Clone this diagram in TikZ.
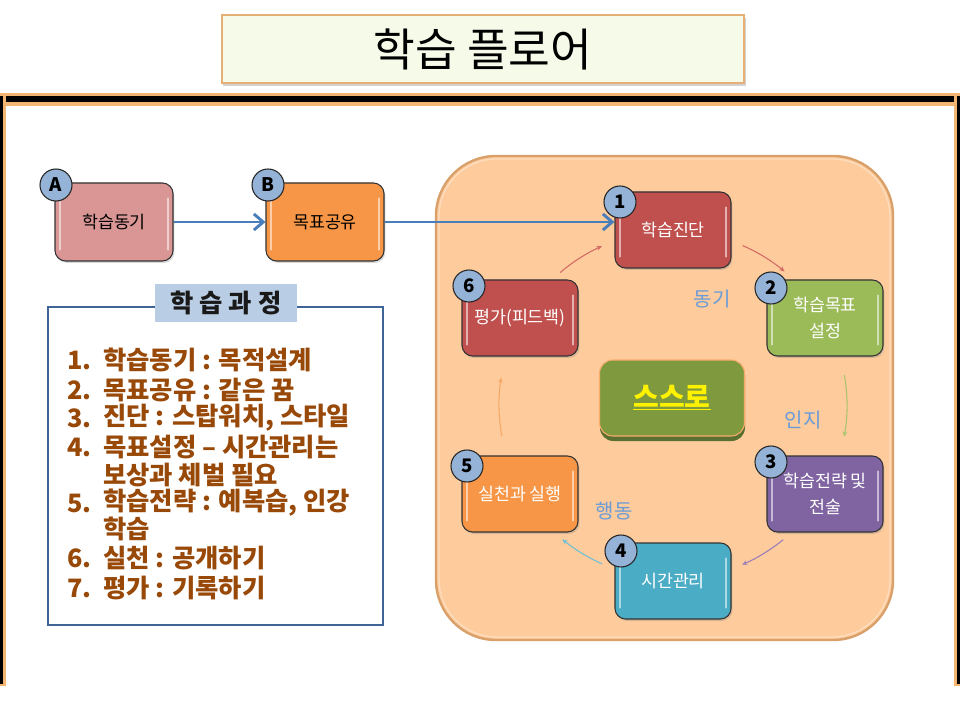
\documentclass[tikz,border=0pt]{standalone}
\usepackage{fontspec}
\setmainfont{Noto Sans CJK KR}
\usetikzlibrary{shadows,arrows.meta}
\definecolor{pinkA}{HTML}{D99694}
\definecolor{orangeB}{HTML}{F79646}
\definecolor{redbox}{HTML}{C0504D}
\definecolor{greenbox}{HTML}{9BBB59}
\definecolor{purplebox}{HTML}{8064A2}
\definecolor{tealbox}{HTML}{4BACC6}
\definecolor{olivebox}{HTML}{7F9A3E}
\definecolor{olivedark}{HTML}{5A7030}
\definecolor{badgeblue}{HTML}{95B3D7}
\definecolor{bigfill}{HTML}{FDCB9C}
\definecolor{bigdraw}{HTML}{D9A06A}
\definecolor{listframe}{HTML}{3F6597}
\definecolor{labelfill}{HTML}{B9CDE5}
\definecolor{brownText}{HTML}{984807}
\definecolor{lblue}{HTML}{6A9BD8}
\definecolor{titlefill}{HTML}{F6FBE9}
\definecolor{titledraw}{HTML}{E6AF76}
\definecolor{arrowblue}{HTML}{4A7EBB}
\definecolor{frameorange}{HTML}{F3B572}
\definecolor{arrRed}{HTML}{D46A66}
\definecolor{arrGreen}{HTML}{A9C46B}
\definecolor{arrPurple}{HTML}{9A7DB8}
\definecolor{arrTeal}{HTML}{6EBFD4}
\definecolor{arrOrange}{HTML}{F9A864}
\tikzset{
  box/.style={draw=black!80, line width=0.8pt, rounded corners=8pt,
    minimum width=87pt, minimum height=57pt, text=white, align=center,
    font=\fontsize{13}{20}\selectfont, inner sep=2pt,
    drop shadow={opacity=0.3, shadow xshift=1pt, shadow yshift=-1.5pt}},
  badge/.style={circle, draw=black!85, line width=0.8pt, fill=badgeblue,
    minimum size=24pt, inner sep=0pt, text=black,
    font=\bfseries\fontsize{14}{14}\selectfont},
  gloss/.style={white, opacity=0.55, line width=1.5pt, line cap=round},
  cycarrow/.style={line width=0.8pt, -{Stealth[length=4pt,width=3.5pt]}},
  bigarrow/.style={arrowblue, line width=2.2pt, -{Straight Barb[length=7pt,width=12pt]}},
  item/.style={anchor=west, inner sep=0pt, text=brownText,
    font=\bfseries\fontsize{19}{19}\selectfont},
  smalllabel/.style={text=lblue, font=\fontsize{15}{15}\selectfont},
}
\begin{document}
\begin{tikzpicture}[x=0.75pt,y=-0.75pt]
\useasboundingbox (0,0) rectangle (960,720);
\fill[white] (0,0) rectangle (960,720);

% frame
\fill[frameorange] (0,93) rectangle (960,106);
\fill[black] (0,96) rectangle (960,102);
\fill[frameorange] (0,96) rectangle (6,686);
\fill[frameorange] (954,96) rectangle (960,686);
\fill[black] (0,96) rectangle (3,684);
\fill[black] (957,96) rectangle (960,684);

% title
\node[draw=titledraw, line width=1.5pt, fill=titlefill,
  minimum width=392pt, minimum height=51pt,
  drop shadow={opacity=0.35, shadow xshift=1pt, shadow yshift=-2pt},
  font=\fontsize{34}{34}\selectfont] (title) at (483,49) {학습 플로어};

% big orange area
\draw[bigdraw, line width=1.8pt, fill=bigfill, rounded corners=45pt]
  (436,156) rectangle (893,640);
\draw[white, opacity=0.35, line width=1pt, rounded corners=43pt]
  (439,159) rectangle (890,637);

% left flow boxes
\node[box, fill=pinkA, text=black, minimum width=88.5pt, minimum height=58.5pt] (A) at (114,222) {학습동기};
\node[box, fill=orangeB, text=black, minimum width=88.5pt, minimum height=58.5pt] (B) at (325,222) {목표공유};

% cycle boxes
\node[box, fill=redbox] (n1) at (673,230) {학습진단};
\node[box, fill=greenbox] (n2) at (825,318) {학습목표\\설정};
\node[box, fill=purplebox] (n3) at (825,494) {학습전략 및\\전술};
\node[box, fill=tealbox] (n4) at (673,581) {시간관리};
\node[box, fill=orangeB] (n5) at (520,494) {실천과 실행};
\node[box, fill=redbox] (n6) at (520,318) {평가(피드백)};

% gloss highlights
\foreach \n in {A,B,n1,n2,n3,n4,n5,n6}{
  \draw[gloss] ([shift={(4pt,-12pt)}]\n.north west) -- ([shift={(4pt,9pt)}]\n.south west);
  \draw[gloss] ([shift={(-4pt,-12pt)}]\n.north east) -- ([shift={(-4pt,9pt)}]\n.south east);
}

% center box
\fill[olivedark, rounded corners=10pt] (600,362) rectangle (745,441);
\node[fill=olivebox, draw=orangeB!80, line width=0.8pt, rounded corners=10pt,
  minimum width=108.75pt, minimum height=57pt, text=yellow,
  font=\bfseries\fontsize{21}{21}\selectfont] (self) at (672,398) {\underline{스스로}};

% badges
\node[badge] (bA) at (56,185) {A};
\node[badge] (bB) at (268,185) {B};
\node[badge] (b1) at (620,202) {1};
\node[badge] (b2) at (771,288) {2};
\node[badge] (b3) at (771,462) {3};
\node[badge] (b4) at (621,551) {4};
\node[badge] (b5) at (467,466) {5};
\node[badge] (b6) at (469,286) {6};

% big arrows
\draw[bigarrow] (A.east) -- (B.west);
\draw[bigarrow] (B.east) -- (B.east -| n1.west);

% cycle arrows
\coordinate (cyc) at (673,405);
\path (cyc) ++(229.6:174) coordinate (s61);
\path (cyc) ++(293.6:174) coordinate (s12);
\path (cyc) ++(350.1:174) coordinate (s23);
\path (cyc) ++(50.7:174) coordinate (s34);
\path (cyc) ++(114.0:174) coordinate (s45);
\path (cyc) ++(169.6:174) coordinate (s56);
\draw[cycarrow, arrRed] (s61) arc[start angle=229.6, end angle=245.9, radius=174];
\draw[cycarrow, arrRed] (s12) arc[start angle=293.6, end angle=309.9, radius=174];
\draw[cycarrow, arrGreen] (s23) arc[start angle=350.1, end angle=370.5, radius=174];
\draw[cycarrow, arrPurple] (s34) arc[start angle=50.7, end angle=66.6, radius=174];
\draw[cycarrow, arrTeal] (s45) arc[start angle=114.0, end angle=129.5, radius=174];
\draw[cycarrow, arrOrange] (s56) arc[start angle=169.6, end angle=189.1, radius=174];

% cycle labels
\node[smalllabel] (lm) at (712,299) {동기};
\node[smalllabel] (lc) at (803,420) {인지};
\node[smalllabel] (lb) at (614,511) {행동};

% list panel
\draw[listframe, line width=2pt] (48,307) rectangle (383,625);
\node[fill=labelfill, minimum width=106.5pt, minimum height=29pt,
  font=\bfseries\fontsize{19}{19}\selectfont, text=black!90] (ptitle) at (226,303) {학 습 과 정};

\node[item] (k1) at (67,360) {1.};
\node[item] (t1) at (103,360) {학습동기 : 목적설계};
\node[item] (k2) at (67,390) {2.};
\node[item] (t2) at (103,390) {목표공유 : 같은 꿈};
\node[item] (k3) at (67,418) {3.};
\node[item] (t3) at (103,418) {진단 : 스탑워치, 스타일};
\node[item] (k4) at (67,447) {4.};
\node[item] (t4) at (103,447) {목표설정 – 시간관리는};
\node[item] (t4b) at (103,475) {보상과 체벌 필요};
\node[item] (k5) at (67,503) {5.};
\node[item] (t5) at (103,503) {학습전략 : 예복습, 인강};
\node[item] (t5b) at (103,529) {학습};
\node[item] (k6) at (67,558) {6.};
\node[item] (t6) at (103,558) {실천 : 공개하기};
\node[item] (k7) at (67,588) {7.};
\node[item] (t7) at (103,588) {평가 : 기록하기};
\end{tikzpicture}
\end{document}
